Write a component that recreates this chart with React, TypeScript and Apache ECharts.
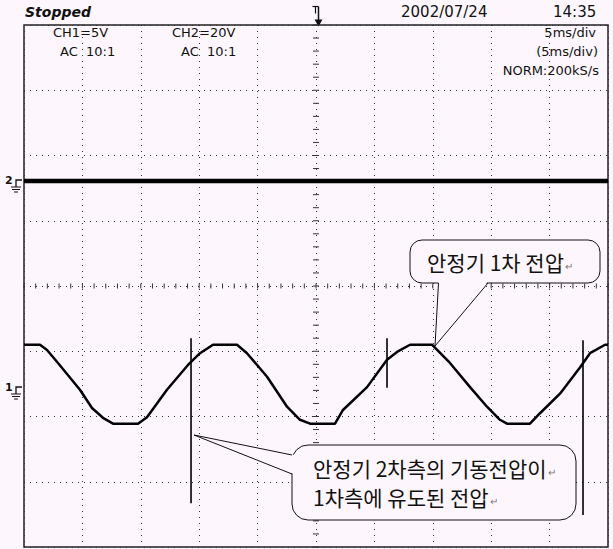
import React, { useEffect, useRef } from "react";
import * as echarts from "echarts";

// Time base: 10 divisions x 5 ms, vertical: 8 divisions
const X_MIN = 0;
const X_MAX = 50;
const X_STEP = 5;
const Y_MIN = -4;
const Y_MAX = 4;
const Y_STEP = 1;

// CH1 trace (ms, div) – clipped sine of the ballast primary voltage
const ch1Time = [
  0, 1.37, 1.97, 2.91, 4.79, 5.82, 6.76, 7.62, 9.76, 10.53, 12.24, 14.04, 15.07, 16.18,
  18.24, 19.09, 20.81, 22.52, 23.63, 24.49, 26.63, 27.31, 29.37, 31.08, 31.94, 33.05,
  34.93, 36.47, 38.19, 39.64, 40.75, 41.35, 43.32, 44.18, 45.89, 47.6, 48.46, 49.75, 50,
];
const ch1Volt = [
  -0.9, -0.9, -0.98, -1.18, -1.59, -1.87, -2.02, -2.11, -2.11, -2.01, -1.59, -1.21, -1.03,
  -0.9, -0.9, -1.03, -1.39, -1.85, -2.05, -2.11, -2.11, -1.9, -1.55, -1.13, -1.01, -0.9,
  -0.9, -1.18, -1.55, -1.85, -2.05, -2.11, -2.11, -1.95, -1.65, -1.25, -1.03, -0.9, -0.9,
];

// Induced starting-voltage spikes on CH1: time, top, bottom (div)
const spikeTime = [14.3, 31.08, 47.86];
const spikeTop = [-0.8, -0.8, -0.83];
const spikeBottom = [-3.33, -1.56, -3.51];

// CH2 trace level (div)
const ch2Time = [0, 50];
const ch2Volt = [1.61, 1.61];

const headerTexts = {
  status: "Stopped",
  date: "2002/07/24",
  time: "14:35",
};
const ch1Labels = ["CH1=5V", "AC  10:1"];
const ch2Labels = ["CH2=20V", "AC  10:1"];
const timebaseLabels = ["5ms/div", "(5ms/div)", "NORM:200kS/s"];
const callout1 = "안정기 1차 전압";
const callout2 = ["안정기 2차측의 기동전압이", "1차측에 유도된 전압"];

const BG = "#fdf7fd";
const INK = "#111";
const KR_FONT = '"Noto Sans CJK KR", sans-serif';
const UI_FONT = '"DejaVu Sans", "Liberation Sans", sans-serif';

// rich-text style shared by the callouts: body text plus a small return mark
const calloutRich = {
  t: { font: `21px ${KR_FONT}`, fill: INK },
  r: { font: `10px ${KR_FONT}`, fill: "#777", padding: [6, 0, 0, 1] },
};

export default function App() {
  const ref = useRef<HTMLDivElement>(null);

  useEffect(() => {
    if (!ref.current) return;
    const chart = echarts.init(ref.current, undefined, { renderer: "svg" });

    const ch1Data = ch1Time.map((t, i) => [t, ch1Volt[i]]);
    const ch2Data = ch2Time.map((t, i) => [t, ch2Volt[i]]);
    const spikeData: any[] = [];
    spikeTime.forEach((t, i) => {
      spikeData.push([t, spikeTop[i]], [t, spikeBottom[i]], null);
    });

    // crosshair graticule ticks every 1/5 division
    const crossTicks: number[][] = [];
    for (let k = 0; k <= 50; k++) crossTicks.push([k, 0, 0]);
    for (let k = -20; k <= 20; k++) crossTicks.push([25, k / 5, 1]);

    const dotted = { type: [1, 5] as any, color: "#333", width: 1 };

    const option: any = {
      animation: false,
      backgroundColor: BG,
      grid: {
        left: 24,
        top: 25,
        width: 584,
        height: 522,
        show: true,
        borderColor: "#222",
        borderWidth: 1.5,
        backgroundColor: "transparent",
      },
      xAxis: {
        type: "value",
        min: X_MIN,
        max: X_MAX,
        interval: X_STEP,
        axisLine: { show: false },
        axisTick: { show: false },
        axisLabel: { show: false },
        splitLine: { show: true, lineStyle: dotted },
      },
      yAxis: {
        type: "value",
        min: Y_MIN,
        max: Y_MAX,
        interval: Y_STEP,
        axisLine: { show: false },
        axisTick: { show: false },
        axisLabel: { show: false },
        splitLine: { show: true, lineStyle: dotted },
      },
      series: [
        {
          type: "custom",
          silent: true,
          data: crossTicks,
          renderItem: (_p: any, api: any) => {
            const c = api.coord([api.value(0), api.value(1)]);
            const vertical = api.value(2) === 0;
            const h = 2.5;
            return {
              type: "line",
              shape: vertical
                ? { x1: c[0], y1: c[1] - h, x2: c[0], y2: c[1] + h }
                : { x1: c[0] - h - 0.5, y1: c[1], x2: c[0] + h + 0.5, y2: c[1] },
              style: { stroke: "#333", lineWidth: 1 },
            };
          },
        },
        {
          name: "CH2",
          type: "line",
          data: ch2Data,
          showSymbol: false,
          lineStyle: { color: "#000", width: 4.5 },
        },
        {
          name: "CH1",
          type: "line",
          data: ch1Data,
          showSymbol: false,
          lineStyle: { color: "#000", width: 2.5 },
        },
        {
          name: "spike",
          type: "line",
          data: spikeData,
          connectNulls: false,
          showSymbol: false,
          lineStyle: { color: "#000", width: 1.6 },
        },
      ],
      graphic: [
        // header
        {
          type: "text",
          left: 25,
          top: 5,
          style: {
            text: headerTexts.status,
            font: `italic bold 14px ${UI_FONT}`,
            fill: INK,
          },
        },
        {
          type: "text",
          left: 401,
          top: 4,
          style: { text: headerTexts.date, font: `15px ${UI_FONT}`, fill: INK },
        },
        {
          type: "text",
          left: 553,
          top: 4,
          style: { text: headerTexts.time, font: `15px ${UI_FONT}`, fill: INK },
        },
        // trigger position marker
        {
          type: "group",
          left: 310,
          top: 4,
          children: [
            { type: "line", shape: { x1: 1, y1: 1, x2: 7, y2: 1 }, style: { stroke: INK, lineWidth: 1.2 } },
            { type: "line", shape: { x1: 4, y1: 1, x2: 4, y2: 8 }, style: { stroke: INK, lineWidth: 1.2 } },
            { type: "line", shape: { x1: 7, y1: 1, x2: 7, y2: 17 }, style: { stroke: INK, lineWidth: 1.5 } },
            { type: "polygon", shape: { points: [[3, 14], [11, 14], [7, 21]] }, style: { fill: INK } },
          ],
        },
        // channel settings
        ...ch1Labels.map((t, i) => ({
          type: "text",
          left: i === 0 ? 53 : 60,
          top: 26 + i * 19,
          style: { text: t, font: `13px ${UI_FONT}`, fill: INK },
        })),
        ...ch2Labels.map((t, i) => ({
          type: "text",
          left: i === 0 ? 172 : 181,
          top: 26 + i * 19,
          style: { text: t, font: `13px ${UI_FONT}`, fill: INK },
        })),
        ...timebaseLabels.map((t, i) => ({
          type: "text",
          right: 17 + (i === 2 ? -3 : i === 1 ? -2 : 0),
          top: 26 + i * 19,
          style: { text: t, font: `13px ${UI_FONT}`, fill: INK },
        })),
        // ground markers
        ...[
          { label: "2", y: 180 },
          { label: "1", y: 387 },
        ].map((m) => ({
          type: "group",
          left: 5,
          top: m.y - 5,
          children: [
            { type: "text", x: 0, y: 0, style: { text: m.label, font: `bold 11px ${UI_FONT}`, fill: INK } },
            { type: "polyline", shape: { points: [[17, 5], [11, 5], [11, 12]] }, style: { stroke: INK, lineWidth: 1.3, fill: "none" } },
            { type: "line", shape: { x1: 6, y1: 12, x2: 16, y2: 12 }, style: { stroke: INK, lineWidth: 1 } },
            { type: "line", shape: { x1: 7, y1: 14.5, x2: 15, y2: 14.5 }, style: { stroke: INK, lineWidth: 1 } },
            { type: "line", shape: { x1: 9, y1: 17, x2: 13, y2: 17 }, style: { stroke: INK, lineWidth: 1 } },
          ],
        })),
        // callout: primary voltage
        {
          type: "rect",
          shape: { x: 410, y: 240, width: 190, height: 43, r: 12 },
          style: { fill: BG, stroke: INK, lineWidth: 1 },
          z: 100,
        },
        {
          type: "polygon",
          shape: { points: [[438.5, 281], [488, 281], [435, 346]] },
          style: { fill: BG, stroke: "none" },
          z: 101,
        },
        {
          type: "polyline",
          shape: { points: [[438.5, 283], [435, 346], [488, 283]] },
          style: { stroke: INK, lineWidth: 1, fill: "none" },
          z: 101,
        },
        {
          type: "text",
          x: 427,
          y: 262,
          style: { text: `{t|${callout1}}{r|↵}`, rich: calloutRich, verticalAlign: "middle" },
          z: 102,
        },
        // callout: induced starting voltage
        {
          type: "rect",
          shape: { x: 292, y: 445, width: 284, height: 75, r: 16 },
          style: { fill: BG, stroke: INK, lineWidth: 1 },
          z: 100,
        },
        {
          type: "polygon",
          shape: { points: [[294, 455], [294, 474], [194, 435]] },
          style: { fill: BG, stroke: "none" },
          z: 101,
        },
        {
          type: "polyline",
          shape: { points: [[292, 455], [194, 435], [292, 474]] },
          style: { stroke: INK, lineWidth: 1, fill: "none" },
          z: 101,
        },
        ...callout2.map((t, i) => ({
          type: "text",
          x: 313,
          y: 468 + i * 29,
          style: { text: `{t|${t}}{r|↵}`, rich: calloutRich, verticalAlign: "middle" },
          z: 102,
        })),
      ],
    };

    chart.setOption(option);
    return () => chart.dispose();
  }, []);

  return (
    <div
      ref={ref}
      style={{ position: "fixed", left: 0, top: 0, width: 613, height: 549, background: BG }}
    />
  );
}
